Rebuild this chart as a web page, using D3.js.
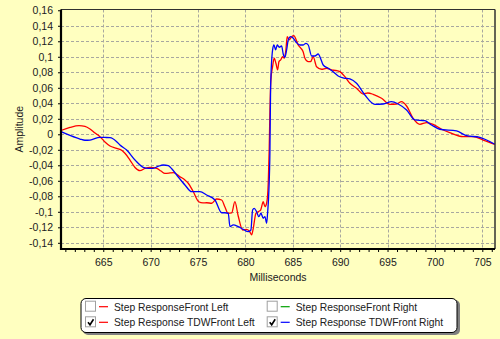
<!DOCTYPE html>
<html><head><meta charset="utf-8">
<script src="https://cdn.jsdelivr.net/npm/d3@7"></script>
<style>
html,body{margin:0;padding:0;background:#FFFFC0;}
svg{display:block;font-family:"Liberation Sans",Arial,sans-serif;}
</style></head><body>
<svg id="c" width="500" height="339"></svg>
<script>
// ---- data ----
const redMs = [660.54,661.49,662.44,663.07,663.60,664.13,664.65,665.18,665.71,666.42,666.98,667.29,667.82,668.35,668.87,669.40,669.93,670.64,671.09,671.51,672.04,672.39,673.09,673.62,673.97,674.50,675.07,675.52,675.91,676.44,676.96,677.49,677.84,678.16,678.55,678.89,679.24,679.71,680.13,680.48,680.66,680.83,681.11,681.35,681.61,681.88,682.06,682.24,682.41,682.51,682.59,682.69,682.87,683.04,683.22,683.40,683.54,683.72,683.93,684.10,684.27,684.41,684.62,684.88,685.12,685.33,685.57,685.86,686.10,686.28,686.63,686.88,687.15,687.51,688.04,688.57,689.10,689.55,689.97,690.50,691.03,691.73,692.43,692.92,693.48,694.37,695.25,695.95,696.48,697.01,697.70,698.41,699.12,699.81,700.70,701.57,702.98,704.03,705.09,706.32];
const redAmp = [0.0049,0.0088,0.0111,0.0101,0.0068,0.0017,-0.0031,-0.0099,-0.0151,-0.0181,-0.0209,-0.0245,-0.0332,-0.0428,-0.0470,-0.0441,-0.0426,-0.0439,-0.0474,-0.0503,-0.0499,-0.0495,-0.0547,-0.0590,-0.0632,-0.0741,-0.0870,-0.0886,-0.0883,-0.0890,-0.0835,-0.0848,-0.0938,-0.1019,-0.1015,-0.0870,-0.1054,-0.1235,-0.1226,-0.1261,-0.1299,-0.1213,-0.1019,-0.0999,-0.0977,-0.0870,-0.0934,-0.0890,-0.0632,-0.0203,0.0314,0.0701,0.0872,0.0981,0.0916,0.0830,0.0937,0.0959,0.1001,0.0981,0.1088,0.1259,0.1217,0.1259,0.1272,0.1226,0.1152,0.1110,0.1062,0.0981,0.0937,0.0937,0.1001,0.0872,0.0839,0.0852,0.0830,0.0823,0.0808,0.0743,0.0658,0.0594,0.0520,0.0533,0.0516,0.0465,0.0387,0.0391,0.0421,0.0365,0.0206,0.0129,0.0150,0.0129,0.0065,0.0021,-0.0031,-0.0031,-0.0074,-0.0129];
const blueMs = [660.54,661.49,662.54,663.07,663.60,664.65,665.18,665.71,666.42,666.76,667.47,668.35,669.22,669.75,670.28,670.77,671.33,671.86,672.25,672.75,673.62,674.33,675.20,675.91,676.79,677.49,677.84,678.19,678.37,678.72,679.24,679.77,680.30,680.58,680.76,680.93,681.18,681.42,681.64,681.88,682.06,682.24,682.34,682.48,682.59,682.66,682.87,683.01,683.19,683.36,683.57,683.82,683.99,684.17,684.35,684.52,684.77,685.05,685.40,685.75,686.10,686.38,686.63,686.99,687.34,687.68,687.86,688.21,688.74,689.26,689.79,690.39,691.03,691.73,692.61,693.66,694.54,695.42,696.12,697.01,697.88,698.94,699.64,700.52,702.28,703.34,704.74,706.32];
const blueAmp = [0.0034,-0.0015,-0.0061,-0.0077,-0.0074,-0.0039,-0.0041,-0.0044,-0.0095,-0.0138,-0.0203,-0.0332,-0.0426,-0.0439,-0.0439,-0.0415,-0.0396,-0.0405,-0.0448,-0.0525,-0.0654,-0.0741,-0.0741,-0.0783,-0.0848,-0.1012,-0.1012,-0.1019,-0.1192,-0.1170,-0.1192,-0.1226,-0.1257,-0.1235,-0.0977,-0.0955,-0.0999,-0.1063,-0.1019,-0.1084,-0.1063,-0.1148,-0.1019,-0.0719,-0.0203,0.0614,0.1088,0.1152,0.1088,0.1152,0.1123,0.1139,0.1036,0.0994,0.1088,0.1217,0.1259,0.1239,0.1182,0.1152,0.1152,0.1174,0.1152,0.1010,0.1010,0.1036,0.1001,0.0894,0.0852,0.0808,0.0752,0.0726,0.0714,0.0658,0.0507,0.0387,0.0391,0.0421,0.0391,0.0314,0.0185,0.0175,0.0120,0.0065,0.0043,-0.0018,-0.0039,-0.0129];
const xTicks = [665,670,675,680,685,690,695,700,705];
const yTicks = [0.16,0.14,0.12,0.1,0.08,0.06,0.04,0.02,0,-0.02,-0.04,-0.06,-0.08,-0.1,-0.12,-0.14];
const xDomain = [660.54, 706.34];
const yDomain = [-0.148, 0.161];
const legendNames = ["Step ResponseFront Left","Step ResponseFront Right","Step Response TDWFront Left","Step Response TDWFront Right"];
const legendColors = ["#ff0000","#00a000","#ff0000","#0000ff"];
const legendChecked = [false,false,true,true];

// ---- drawing ----
const svg = d3.select("#c");
const L=61, R=495, T=9.5, B=249;
const x = d3.scaleLinear().domain(xDomain).range([L,R]);
const y = d3.scaleLinear().domain(yDomain).range([B,T]);
const fmt = v => String(+v.toFixed(2)).replace(".",",");

// grid
const g = svg.append("g");
g.selectAll("line.h").data(yTicks.filter(v=>v!==0.16)).enter().append("line")
  .attr("x1",L).attr("x2",R).attr("y1",d=>Math.round(y(d))+0.5).attr("y2",d=>Math.round(y(d))+0.5)
  .attr("stroke","#a8a8a0").attr("stroke-dasharray","3,2");
g.selectAll("line.v").data(xTicks).enter().append("line")
  .attr("y1",T).attr("y2",B).attr("x1",d=>Math.round(x(d))+0.5).attr("x2",d=>Math.round(x(d))+0.5)
  .attr("stroke","#a8a8a0").attr("stroke-dasharray","3,2");

// lines
const line = d3.line().x(d=>x(d[0])).y(d=>y(d[1])).curve(d3.curveMonotoneX);
svg.append("path").datum(redMs.map((m,i)=>[m,redAmp[i]])).attr("d",line)
  .attr("fill","none").attr("stroke","#ff0000").attr("stroke-width",1.3);
svg.append("path").datum(blueMs.map((m,i)=>[m,blueAmp[i]])).attr("d",line)
  .attr("fill","none").attr("stroke","#0000ff").attr("stroke-width",1.3);

// frame
svg.append("line").attr("x1",L).attr("x2",R).attr("y1",T).attr("y2",T).attr("stroke","#303030").attr("stroke-width",1);
svg.append("line").attr("x1",R).attr("x2",R).attr("y1",T).attr("y2",B).attr("stroke","#303030").attr("stroke-width",1.5);

// axes
const yAxis = d3.axisLeft(y).tickValues(yTicks).tickFormat(fmt).tickSize(3).tickPadding(5);
const ya = svg.append("g").attr("transform",`translate(${L},0)`).call(yAxis);
const xMinor = d3.range(661,707);
const xAxis = d3.axisBottom(x).tickValues(xMinor).tickFormat(d=>xTicks.includes(d)?d:"").tickSize(3).tickPadding(7);
const xa = svg.append("g").attr("transform",`translate(0,${B})`).call(xAxis);
[ya,xa].forEach(a=>{
  a.select(".domain").attr("stroke","#000").attr("stroke-width",2.2);
  a.selectAll(".tick line").attr("stroke","#000");
  a.selectAll("text").attr("font-size",10.5).attr("fill","#202020").attr("font-family","Liberation Sans, Arial, sans-serif");
});
ya.select(".domain").attr("d",`M0,${T}V${B+1}`);
xa.select(".domain").attr("d",`M${L-1},0H${R}`);

svg.append("text").attr("x",(L+R)/2).attr("y",281).attr("text-anchor","middle")
  .attr("font-size",10.5).attr("fill","#202020").text("Milliseconds");
svg.append("text").attr("transform",`translate(23,${(T+B)/2}) rotate(-90)`).attr("text-anchor","middle")
  .attr("font-size",10.5).attr("fill","#202020").text("Amplitude");

// legend
const lg = svg.append("g");
lg.append("rect").attr("x",83).attr("y",300).attr("width",377).attr("height",35).attr("rx",5).attr("fill","#808080");
lg.append("rect").attr("x",81).attr("y",298.5).attr("width",376).attr("height",34).attr("rx",5).attr("fill","#fff").attr("stroke","#000");
const cols=[85,266.7], rows=[306.7,322.3];
legendNames.forEach((n,i)=>{
  const cx = cols[i%2], cy = rows[Math.floor(i/2)];
  const e = lg.append("g");
  e.append("rect").attr("x",cx+0.5).attr("y",cy-5.5).attr("width",10).attr("height",10).attr("fill","#fff").attr("stroke","#a0a0a0");
  if(legendChecked[i]) e.append("path").attr("d",`M${cx+3},${cy} L${cx+5},${cy+2.5} L${cx+8.5},${cy-3}`).attr("fill","none").attr("stroke","#000").attr("stroke-width",1.6);
  e.append("line").attr("x1",cx+14).attr("x2",cx+23).attr("y1",cy).attr("y2",cy).attr("stroke",legendColors[i]).attr("stroke-width",1.2);
  e.append("text").attr("x",cx+29).attr("y",cy+4).attr("font-size",10.3).attr("fill","#202020").text(n);
});
</script></body></html>
